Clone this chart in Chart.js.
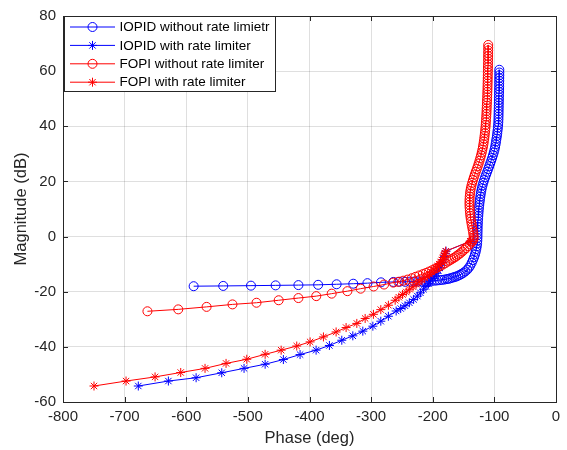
<!DOCTYPE html>
<html><head><meta charset="utf-8">
<script src="https://cdn.jsdelivr.net/npm/chart.js@4.4.0/dist/chart.umd.min.js"></script>
<style>html,body{margin:0;padding:0;background:#fff;}</style>
</head><body>
<canvas id="c" width="567" height="450"></canvas>
<script>
// ---- data (phase deg, magnitude dB) ----
const seriesLabels = ['IOPID without rate limietr', 'IOPID with rate limiter', 'FOPI without rate limiter', 'FOPI with rate limiter'];
const xTickValues = [-800, -700, -600, -500, -400, -300, -200, -100, 0];
const yTickValues = [-60, -40, -20, 0, 20, 40, 60, 80];
const xTitle = 'Phase (deg)';
const yTitle = 'Magnitude (dB)';

const iopidWithout = [
[-92,60.5],[-92,59.5],[-92,58.5],[-92.1,57.5],[-92.1,56.5],[-92.2,55.5],[-92.2,54.5],[-92.3,53.5],[-92.4,52.5],[-92.5,51.5],
[-92.6,50.5],[-92.7,49.5],[-92.8,48.5],[-92.9,47.5],[-93,46.5],[-93.1,45.5],[-93.2,44.5],[-93.3,43.5],[-93.4,42.5],[-93.6,41.5],
[-93.9,40.5],[-94.3,39.5],[-94.8,38.5],[-95.3,37.5],[-95.9,36.5],[-96.6,35.5],[-97.3,34.5],[-98,33.5],[-98.8,32.5],[-99.8,31.5],
[-101,30.5],[-102.3,29.5],[-103.7,28.5],[-105.2,27.5],[-106.8,26.5],[-108.4,25.5],[-110,24.5],[-111.7,23.5],[-113.4,22.5],[-115,21.5],
[-116.6,20.5],[-118,19.5],[-119.3,18.5],[-120.4,17.5],[-121.3,16.5],[-122.1,15.5],[-122.8,14.5],[-123.4,13.5],[-124,12.5],[-124.5,11.5],
[-125,10.5],[-125.4,9.5],[-125.8,8.5],[-126.1,7.5],[-126.4,6.5],[-126.7,5.5],[-126.9,4.5],[-127.1,3.5],[-127.2,2.5],[-127.3,1.5],
[-127.4,0.5],[-127.5,-0.5],[-127.7,-1.5],[-128,-2.5],[-128.5,-3.5],[-129.3,-4.5],[-130.3,-5.5],[-131.5,-6.5],[-133,-7.5],[-134.8,-8.5],
[-136.8,-9.5],[-139,-10.5],[-141.5,-11.3],[-144,-12],[-147,-12.6],[-150,-13.1],[-153,-13.5],[-156,-13.9],[-159,-14.2],[-162,-14.5],
[-165,-14.7],[-168,-14.9],[-171,-15.1],[-174,-15.3],[-177,-15.4],[-181,-15.6],[-185,-15.7],[-189,-15.8],[-193,-15.9],[-197,-16],
[-202,-16.1],[-207,-16.15],[-212,-16.2],[-218,-16.25],[-224,-16.3],[-230,-16.3],[-237,-16.35],[-245,-16.4],[-254,-16.4],[-264,-16.45],
[-284,-16.6],[-306,-16.9],[-329,-17.1],[-356,-17.3],[-386,-17.5],[-418,-17.6],[-455,-17.7],[-495,-17.8],[-540,-17.9],[-588,-18]
];

const iopidWith = [
[-139,-1.7],[-178.5,-5.3],[-179.5,-6.2],[-180.5,-7.2],[-182,-8.3],[-184,-9.4],[-186,-10.4],[-188.5,-11.4],[-191,-12.3],[-194,-13.3],
[-197,-14.3],[-200,-15.2],[-203.5,-16.1],[-207,-17.1],[-211,-18.1],[-215,-19.1],[-220,-20.4],[-225,-21.6],[-231,-22.8],[-238,-24],
[-245,-25.1],[-252,-26.1],[-259.4,-27],[-272,-28.9],[-284.3,-30.7],[-297.2,-32.5],[-313.5,-34.3],[-329.7,-36],[-347.6,-37.6],[-367.7,-39.5],
[-389.3,-41.2],[-415.3,-42.8],[-442.4,-44.6],[-472,-46.3],[-506.2,-47.8],[-542.4,-49.4],[-584,-51.2],[-629,-52.4],[-677.8,-54.2]
];

const fopiWithout = [
[-110,69.5],[-110,68.5],[-110,67.5],[-110.1,66.5],[-110.1,65.5],[-110.2,64.5],[-110.2,63.5],[-110.3,62.5],[-110.4,61.5],[-110.5,60.5],
[-110.6,59.5],[-110.7,58.5],[-110.8,57.5],[-110.9,56.5],[-111,55.5],[-111.1,54.5],[-111.2,53.5],[-111.4,52.5],[-111.5,51.5],[-111.7,50.5],
[-111.9,49.5],[-112.1,48.5],[-112.3,47.5],[-112.5,46.5],[-112.7,45.5],[-112.9,44.5],[-113.2,43.5],[-113.5,42.5],[-113.8,41.5],[-114.1,40.5],
[-114.5,39.5],[-114.9,38.5],[-115.4,37.5],[-115.9,36.5],[-116.5,35.5],[-117.1,34.5],[-117.8,33.5],[-118.6,32.5],[-119.5,31.5],[-120.5,30.5],
[-121.6,29.5],[-122.8,28.5],[-124.1,27.5],[-125.5,26.5],[-127,25.5],[-128.6,24.5],[-130.2,23.5],[-131.8,22.5],[-133.3,21.5],[-134.7,20.5],
[-136,19.5],[-137.2,18.5],[-138.2,17.5],[-139,16.5],[-139.6,15.5],[-140,14.5],[-140.3,13.5],[-140.4,12.5],[-140.4,11.5],[-140.2,10.5],
[-139.9,9.5],[-139.5,8.5],[-139,7.5],[-138.4,6.5],[-137.7,5.5],[-136.9,4.5],[-136.1,3.5],[-135.3,2.5],[-134.5,1.5],[-133.8,0.5],
[-133.5,-0.3],[-134,-1],[-135.3,-1.6],[-137.3,-2.1],[-140,-2.8],[-143,-3.5],[-146,-4.2],[-149,-4.8],[-152,-5.4],[-155,-6],
[-158,-6.5],[-161,-7],[-164,-7.5],[-167,-7.9],[-170,-8.3],[-173,-8.7],[-176,-9.1],[-180,-9.7],[-184,-10.2],[-188,-10.7],
[-192,-11.2],[-196,-11.6],[-201,-12.2],[-206,-12.7],[-211,-13.2],[-216,-13.6],[-222,-14.1],[-228,-14.6],[-234,-15.1],[-241,-15.6],
[-248,-16],[-256,-16.4],[-264,-16.7],[-279,-17.4],[-296,-18.1],[-317,-18.9],[-338.5,-19.8],[-364,-20.7],[-389,-21.6],[-418,-22.3],
[-450,-23.1],[-486,-24],[-525,-24.6],[-567,-25.5],[-613,-26.4],[-663,-27.1]
];

const fopiWith = [
[-139,-1.7],[-179,-5.3],[-180,-6],[-181.5,-6.8],[-183,-7.6],[-185,-8.5],[-187,-9.2],[-189.5,-10],[-192,-10.7],[-195,-11.4],
[-198,-12.1],[-201.5,-12.9],[-205,-13.6],[-209,-14.3],[-213,-15],[-217.5,-15.7],[-222,-16.5],[-227,-17.3],[-232,-18.2],[-237.5,-19.1],
[-243,-20.1],[-249,-21],[-255,-22],[-261,-23.1],[-272,-24.9],[-284.3,-26.5],[-296.3,-28.2],[-309.7,-29.7],[-323.2,-31.5],[-340.6,-33],
[-356.8,-34.6],[-377.4,-36.4],[-399,-38.2],[-420.7,-39.7],[-446,-41.2],[-472,-42.7],[-501.8,-44.5],[-535.4,-46],[-569.5,-47.8],[-609,-49.3],
[-650.6,-50.9],[-697.7,-52.4],[-749.7,-54.2]
];

// ---- styling ----
const BLUE = 'rgb(0,0,255)';
const RED = 'rgb(255,0,0)';
const AX = '#262626';
const FONT = '"Liberation Sans", Arial, Helvetica, sans-serif';

const toPts = arr => arr.map(p => ({x: p[0], y: p[1]}));

function ds(label, data, color, style, order) {
  return {
    label, data: toPts(data), showLine: true, borderColor: color, backgroundColor: 'rgba(0,0,0,0)',
    borderWidth: 1, pointStyle: style, pointRadius: 4.5, pointBorderWidth: 1,
    pointBorderColor: color, pointBackgroundColor: 'rgba(0,0,0,0)', tension: 0, order
  };
}

const datasets = [
  ds(seriesLabels[0], iopidWithout, BLUE, 'circle', 4),
  ds(seriesLabels[1], iopidWith, BLUE, 'star', 3),
  ds(seriesLabels[2], fopiWithout, RED, 'circle', 2),
  ds(seriesLabels[3], fopiWith, RED, 'star', 1)
];

const boxPlugin = {
  id: 'matlabBox',
  afterDatasetsDraw(chart) {
    const {ctx, chartArea: a, scales: {x, y}} = chart;
    ctx.save();
    ctx.strokeStyle = AX; ctx.lineWidth = 1;
    ctx.beginPath();
    const tl = 5;
    xTickValues.forEach(v => {
      const px = Math.round(x.getPixelForValue(v)) + 0.5;
      ctx.moveTo(px, a.bottom); ctx.lineTo(px, a.bottom - tl);
      ctx.moveTo(px, a.top); ctx.lineTo(px, a.top + tl);
    });
    yTickValues.forEach(v => {
      const py = Math.round(y.getPixelForValue(v)) + 0.5;
      ctx.moveTo(a.left, py); ctx.lineTo(a.left + tl, py);
      ctx.moveTo(a.right, py); ctx.lineTo(a.right - tl, py);
    });
    ctx.stroke();
    ctx.strokeRect(Math.round(a.left) + 0.5, Math.round(a.top) + 0.5, Math.round(a.right - a.left), Math.round(a.bottom - a.top));
    ctx.restore();
  },
  afterDraw(chart) {
    const ctx = chart.ctx;
    const bx = 64.5, by = 16.5, bw = 211, bh = 75;
    ctx.save();
    ctx.fillStyle = '#fff';
    ctx.fillRect(bx, by, bw, bh);
    ctx.strokeStyle = AX; ctx.lineWidth = 1;
    ctx.strokeRect(bx, by, bw, bh);
    chart.data.datasets.forEach((d, i) => {
      const yy = 27 + i * 18.4;
      ctx.strokeStyle = d.borderColor; ctx.lineWidth = 1;
      ctx.beginPath(); ctx.moveTo(70, yy); ctx.lineTo(115, yy); ctx.stroke();
      ctx.fillStyle = 'rgba(0,0,0,0)';
      Chart.helpers.drawPoint(ctx, {pointStyle: d.pointStyle, radius: 4.5, borderWidth: 1, rotation: 0}, 92.5, yy);
      ctx.fillStyle = '#000';
      ctx.font = '13.5px ' + FONT;
      ctx.textBaseline = 'middle'; ctx.textAlign = 'left';
      ctx.fillText(d.label, 119.5, yy + 0.5);
    });
    ctx.restore();
  }
};

Chart.defaults.font.family = FONT;
new Chart(document.getElementById('c'), {
  type: 'scatter',
  data: { datasets },
  options: {
    responsive: false, animation: false, devicePixelRatio: 1,
    layout: { padding: { left: 0, right: 11, top: 15, bottom: 0 } },
    plugins: { legend: { display: false }, tooltip: { enabled: false } },
    scales: {
      x: {
        type: 'linear', min: -800, max: 0,
        afterBuildTicks: s => { s.ticks = xTickValues.map(v => ({value: v})); },
        afterFit: s => { s.height = 48; },
        ticks: { font: { size: 15 }, color: AX, padding: 6, maxRotation: 0 },
        grid: { color: 'rgba(38,38,38,0.15)', drawTicks: false },
        border: { display: false },
        title: { display: true, text: xTitle, font: { size: 16.5 }, color: AX, padding: { top: 0, bottom: 2 } }
      },
      y: {
        type: 'linear', min: -60, max: 80,
        afterBuildTicks: s => { s.ticks = yTickValues.map(v => ({value: v})); },
        afterFit: s => { s.width = 63; },
        ticks: { font: { size: 15 }, color: AX, padding: 7 },
        grid: { color: 'rgba(38,38,38,0.15)', drawTicks: false },
        border: { display: false },
        title: { display: true, text: yTitle, font: { size: 16.5 }, color: AX, padding: { top: 12, bottom: 0 } }
      }
    }
  },
  plugins: [boxPlugin]
});
</script>
</body></html>
